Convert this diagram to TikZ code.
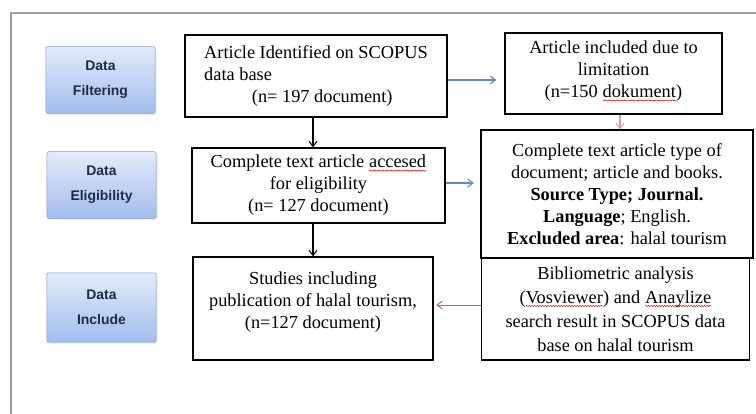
\documentclass[tikz,border=0pt]{standalone}
\usepackage{fontspec}
\setmainfont{Liberation Serif}
\setsansfont{Liberation Sans}
\usetikzlibrary{positioning,arrows.meta,shadows,decorations.pathmorphing}

\definecolor{stagetop}{HTML}{E3EBFA}
\definecolor{stagebot}{HTML}{A2BDEE}
\definecolor{stageedge}{HTML}{7C9AD2}
\definecolor{stagetext}{HTML}{1E2B45}
\definecolor{linkblue}{HTML}{5F8CB9}
\definecolor{linkred}{HTML}{C25E5E}

% red wavy mark of the spell checker
\newcommand{\typo}[1]{\tikz[baseline=(w.base),x=1pt,y=1pt]{%
  \node[shape=rectangle,draw=none,fill=none,inner sep=0pt,outer sep=0pt,
    minimum width=0pt,minimum height=0pt,anchor=base] (w) at (0,0) {#1};
  \draw[red!80!black,line width=0.35pt,decorate,
    decoration={snake,amplitude=0.45pt,segment length=2pt}]
  ([yshift=-2pt]w.base west) -- ([yshift=-2pt]w.base east);}}

\begin{document}
\begin{tikzpicture}[x=0.75bp,y=-0.75bp,>={Straight Barb[length=4pt,width=6pt]},
  box/.style={draw,line width=0.9pt,align=center,inner sep=0pt,
    font=\fontsize{13.8}{16.5}\selectfont},
  stage/.style={draw=stageedge,rounded corners=1.5pt,top color=stagetop,
    bottom color=stagebot,drop shadow={opacity=0.2,shadow xshift=1pt,shadow yshift=-1pt},
    text=stagetext,align=center,inner sep=0pt,minimum width=82bp,minimum height=50bp,
    font=\sffamily\bfseries\fontsize{10.5}{19}\selectfont}]
  \useasboundingbox (0,0) rectangle (756,414);
  % frame
  \draw[gray!75,line width=1.6pt] (11,414) -- (11,13) -- (756,13);
  % stages
  \node[stage] (filter) at (100.5,80) {Data\\Filtering};
  \node[stage] (elig) at (101.5,185) {Data\\Eligibility};
  \node[stage,minimum height=52bp] (incl) at (101.5,307.5) {Data\\Include};
  % left column
  \node[box,align=left,minimum width=196.5bp,minimum height=61.5bp] (ident) at (316,76)
    {Article Identified on SCOPUS\\data base\\\hspace*{2.6em}(n= 197 document)};
  \node[box,minimum width=189.75bp,minimum height=56.25bp] (access) at (318.5,185.5)
    {Complete text article \typo{accesed}\\for eligibility\\(n= 127 document)};
  \node[box,minimum width=180bp,minimum height=77.25bp] (studies) at (313,308.5)
    {Studies including\\publication of halal tourism,\\(n=127 document)\\[-3.7bp]\mbox{}};
  % right column
  \node[box,minimum width=162.75bp,minimum height=60.75bp] (limit) at (613.5,73.5)
    {\\[-10bp]Article included due to\\limitation\\(n=150 \typo{dokument})};
  \node[box,minimum width=204bp,minimum height=96bp] (types) at (617,194)
    {Complete text article type of\\document; article and books.\\
     \textbf{Source Type; Journal.}\\\textbf{Language}; English.\\
     \textbf{Excluded area}: halal tourism};
  \node[box,minimum width=201bp,minimum height=76.5bp,
    font=\fontsize{13.8}{18}\selectfont] (biblio) at (615.5,309)
    {Bibliometric analysis\\(\typo{Vosviewer}) and \typo{Anaylize}\\
     search result in SCOPUS data\\base on halal tourism};
  % arrows
  \draw[->,line width=0.8pt] (ident.south -| 313,0) -- (access.north -| 313,0);
  \draw[->,line width=0.8pt] (access.south -| 313,0) -- (studies.north -| 313,0);
  \draw[->,linkblue,line width=0.8pt,shorten >=6] (ident.east |- 0,80) -- (limit.west |- 0,80);
  \draw[->,linkblue,line width=0.8pt,shorten >=5] (access.east |- 0,183) -- (types.west |- 0,183);
  \draw[->,linkred!60,line width=0.8pt] (limit.south -| 620,0) -- (types.north -| 620,0);
  \draw[->,linkred,line width=0.7pt,shorten >=2] (biblio.west |- 0,305) -- (studies.east |- 0,305);
\end{tikzpicture}
\end{document}
